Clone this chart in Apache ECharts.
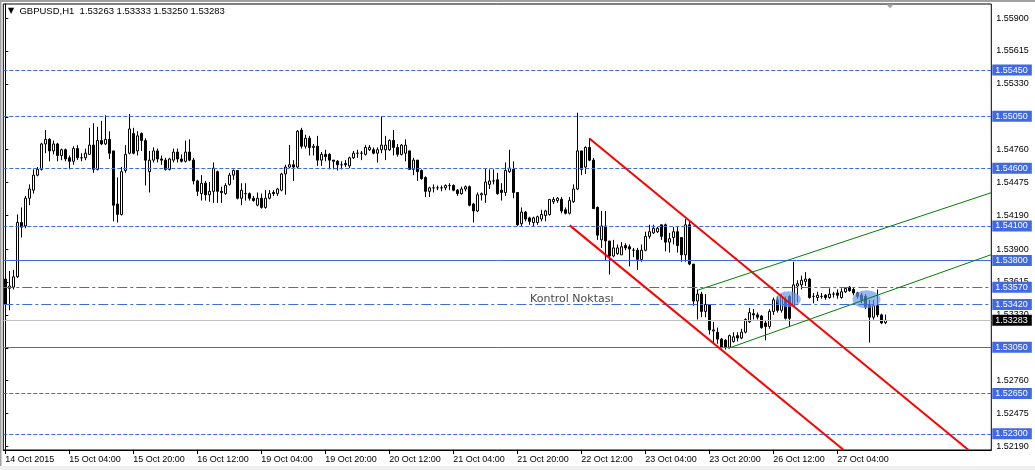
<!DOCTYPE html>
<html><head><meta charset="utf-8">
<script src="https://cdn.jsdelivr.net/npm/echarts@6/dist/echarts.min.js"></script>
<style>html,body{margin:0;padding:0;background:#fff}#c{width:1035px;height:470px}</style>
</head><body><div id="c"></div>
<script>
const opens = [1.5364,1.5356,1.5357,1.5366,1.5413,1.5410,1.5434,1.5441,1.5454,1.5459,
1.5481,1.5485,1.5475,1.5481,1.5471,1.5476,1.5469,1.5466,1.5477,1.5469,
1.5469,1.5472,1.5480,1.5459,1.5484,1.5481,1.5485,1.5475,1.5429,1.5420,
1.5458,1.5473,1.5490,1.5475,1.5490,1.5484,1.5457,1.5467,1.5475,1.5468,
1.5467,1.5459,1.5467,1.5474,1.5468,1.5466,1.5474,1.5467,1.5449,1.5438,
1.5447,1.5437,1.5440,1.5457,1.5440,1.5438,1.5446,1.5454,1.5458,1.5434,
1.5438,1.5438,1.5434,1.5428,1.5434,1.5426,1.5434,1.5439,1.5438,1.5441,
1.5455,1.5461,1.5463,1.5461,1.5493,1.5479,1.5486,1.5478,1.5479,1.5467,
1.5472,1.5472,1.5467,1.5466,1.5463,1.5464,1.5462,1.5469,1.5473,1.5473,
1.5472,1.5476,1.5476,1.5473,1.5476,1.5476,1.5476,1.5484,1.5478,1.5472,
1.5473,1.5475,1.5459,1.5467,1.5458,1.5452,1.5440,1.5443,1.5443,1.5443,
1.5443,1.5445,1.5445,1.5441,1.5438,1.5442,1.5444,1.5429,1.5423,1.5437,
1.5437,1.5446,1.5449,1.5450,1.5441,1.5439,1.5457,1.5459,1.5439,1.5412,
1.5422,1.5417,1.5413,1.5413,1.5416,1.5419,1.5420,1.5431,1.5432,1.5433,
1.5424,1.5421,1.5431,1.5442,1.5475,1.5461,1.5478,1.5467,1.5426,1.5398,
1.5410,1.5397,1.5384,1.5386,1.5385,1.5393,1.5392,1.5389,1.5389,1.5381,
1.5389,1.5401,1.5404,1.5405,1.5411,1.5411,1.5396,1.5400,1.5405,1.5400,
1.5385,1.5411,1.5377,1.5345,1.5351,1.5336,1.5342,1.5319,1.5318,1.5312,
1.5311,1.5305,1.5310,1.5315,1.5313,1.5318,1.5327,1.5334,1.5333,1.5332,
1.5326,1.5323,1.5336,1.5346,1.5337,1.5346,1.5349,1.5341,1.5358,1.5359,
1.5362,1.5364,1.5349,1.5348,1.5349,1.5350,1.5348,1.5351,1.5352,1.5348,
1.5353,1.5357,1.5355,1.5352,1.5350,1.5349,1.5342,1.5331,1.5341,1.5333,
1.53263];
const highs = [1.5367,1.5371,1.5372,1.5420,1.5426,1.5436,1.5446,1.5459,1.5461,1.5482,
1.5493,1.5486,1.5484,1.5482,1.5477,1.5477,1.5471,1.5479,1.5480,1.5473,
1.5477,1.5495,1.5499,1.5496,1.5501,1.5506,1.5492,1.5475,1.5452,1.5461,
1.5480,1.5507,1.5495,1.5492,1.5491,1.5486,1.5475,1.5478,1.5477,1.5471,
1.5469,1.5469,1.5477,1.5477,1.5472,1.5484,1.5485,1.5469,1.5450,1.5454,
1.5449,1.5448,1.5465,1.5458,1.5444,1.5447,1.5456,1.5459,1.5458,1.5447,
1.5447,1.5439,1.5436,1.5439,1.5438,1.5441,1.5441,1.5441,1.5443,1.5456,
1.5463,1.5480,1.5467,1.5493,1.5495,1.5489,1.5488,1.5481,1.5488,1.5474,
1.5476,1.5473,1.5467,1.5467,1.5466,1.5467,1.5470,1.5475,1.5476,1.5475,
1.5480,1.5480,1.5478,1.5478,1.5505,1.5488,1.5485,1.5493,1.5481,1.5481,
1.5485,1.5475,1.5469,1.5467,1.5459,1.5453,1.5444,1.5446,1.5445,1.5445,
1.5446,1.5447,1.5446,1.5442,1.5444,1.5445,1.5445,1.5430,1.5439,1.5439,
1.5460,1.5459,1.5459,1.5456,1.5447,1.5465,1.5476,1.5466,1.5439,1.5426,
1.5423,1.5418,1.5418,1.5419,1.5424,1.5424,1.5433,1.5435,1.5435,1.5435,
1.5426,1.5435,1.5446,1.5508,1.5475,1.5479,1.5486,1.5469,1.5427,1.5423,
1.5423,1.5397,1.5398,1.5394,1.5396,1.5395,1.5394,1.5391,1.5391,1.5394,
1.5405,1.5411,1.5411,1.5409,1.5411,1.5412,1.5404,1.5409,1.5410,1.5400,
1.5416,1.5414,1.5377,1.5355,1.5353,1.5351,1.5342,1.5327,1.5322,1.5313,
1.5312,1.5316,1.5318,1.5318,1.5321,1.5330,1.5339,1.5338,1.5335,1.5333,
1.5328,1.5338,1.5348,1.5349,1.5351,1.5349,1.5350,1.5379,1.5363,1.5367,
1.5370,1.5365,1.5352,1.5353,1.5352,1.5351,1.5356,1.5353,1.5355,1.5356,
1.5357,1.5358,1.5357,1.5353,1.5352,1.5351,1.5346,1.5346,1.5355,1.5334,
1.53333];
const lows = [1.5337,1.5337,1.5355,1.5365,1.5400,1.5408,1.5428,1.5438,1.5453,1.5458,
1.5473,1.5466,1.5472,1.5466,1.5467,1.5466,1.5459,1.5463,1.5467,1.5466,
1.5467,1.5472,1.5456,1.5458,1.5480,1.5480,1.5468,1.5414,1.5413,1.5419,
1.5456,1.5472,1.5472,1.5471,1.5475,1.5445,1.5439,1.5465,1.5465,1.5463,
1.5458,1.5458,1.5465,1.5465,1.5465,1.5465,1.5466,1.5446,1.5436,1.5432,
1.5432,1.5431,1.5430,1.5430,1.5430,1.5437,1.5445,1.5450,1.5433,1.5428,
1.5432,1.5432,1.5431,1.5427,1.5425,1.5425,1.5433,1.5436,1.5436,1.5440,
1.5437,1.5460,1.5449,1.5460,1.5477,1.5477,1.5471,1.5471,1.5462,1.5462,
1.5466,1.5459,1.5459,1.5458,1.5459,1.5461,1.5460,1.5468,1.5469,1.5467,
1.5471,1.5475,1.5472,1.5465,1.5473,1.5467,1.5475,1.5471,1.5470,1.5471,
1.5466,1.5459,1.5454,1.5449,1.5450,1.5435,1.5435,1.5439,1.5441,1.5440,
1.5441,1.5441,1.5440,1.5436,1.5437,1.5440,1.5427,1.5413,1.5422,1.5432,
1.5430,1.5442,1.5446,1.5437,1.5432,1.5436,1.5456,1.5434,1.5410,1.5410,
1.5414,1.5411,1.5410,1.5411,1.5414,1.5414,1.5419,1.5429,1.5430,1.5421,
1.5420,1.5420,1.5430,1.5441,1.5454,1.5455,1.5466,1.5425,1.5398,1.5391,
1.5380,1.5368,1.5383,1.5385,1.5385,1.5389,1.5375,1.5383,1.5372,1.5379,
1.5388,1.5399,1.5403,1.5404,1.5398,1.5388,1.5387,1.5394,1.5387,1.5379,
1.5379,1.5376,1.5341,1.5329,1.5331,1.5331,1.5316,1.5309,1.5308,1.5304,
1.5303,1.5304,1.5309,1.5310,1.5312,1.5317,1.5326,1.5329,1.5329,1.5321,
1.5311,1.5321,1.5333,1.5335,1.5335,1.5329,1.5323,1.5340,1.5344,1.5355,
1.5358,1.5347,1.5343,1.5345,1.5347,1.5346,1.5347,1.5348,1.5347,1.5347,
1.5352,1.5353,1.5350,1.5347,1.5343,1.5338,1.5309,1.5329,1.5331,1.5325,
1.53250];
const closes = [1.5342,1.5358,1.5366,1.5413,1.5409,1.5434,1.5442,1.5454,1.5459,1.5481,
1.5485,1.5475,1.5481,1.5471,1.5476,1.5468,1.5466,1.5477,1.5469,1.5469,
1.5473,1.5480,1.5459,1.5484,1.5481,1.5485,1.5473,1.5428,1.5420,1.5457,
1.5472,1.5494,1.5473,1.5488,1.5484,1.5467,1.5467,1.5475,1.5468,1.5467,
1.5459,1.5468,1.5474,1.5468,1.5466,1.5474,1.5467,1.5449,1.5440,1.5447,
1.5437,1.5440,1.5460,1.5440,1.5439,1.5445,1.5454,1.5458,1.5434,1.5441,
1.5438,1.5434,1.5432,1.5434,1.5426,1.5434,1.5438,1.5438,1.5442,1.5455,
1.5461,1.5463,1.5461,1.5492,1.5479,1.5486,1.5478,1.5479,1.5467,1.5472,
1.5470,1.5467,1.5466,1.5463,1.5463,1.5463,1.5469,1.5473,1.5473,1.5473,
1.5478,1.5478,1.5473,1.5476,1.5480,1.5480,1.5484,1.5478,1.5472,1.5480,
1.5480,1.5459,1.5467,1.5457,1.5451,1.5440,1.5443,1.5443,1.5443,1.5443,
1.5445,1.5445,1.5441,1.5438,1.5442,1.5444,1.5428,1.5423,1.5437,1.5438,
1.5448,1.5449,1.5449,1.5438,1.5439,1.5458,1.5460,1.5439,1.5411,1.5422,
1.5416,1.5414,1.5417,1.5418,1.5420,1.5423,1.5433,1.5433,1.5434,1.5423,
1.5421,1.5432,1.5442,1.5475,1.5459,1.5478,1.5467,1.5425,1.5402,1.5410,
1.5397,1.5384,1.5391,1.5391,1.5392,1.5391,1.5390,1.5389,1.5381,1.5389,
1.5401,1.5405,1.5408,1.5408,1.5401,1.5396,1.5399,1.5405,1.5393,1.5385,
1.5411,1.5377,1.5345,1.5351,1.5336,1.5342,1.5320,1.5320,1.5312,1.5305,
1.5305,1.5315,1.5314,1.5313,1.5318,1.5329,1.5335,1.5333,1.5331,1.5322,
1.5323,1.5336,1.5346,1.5337,1.5349,1.5330,1.5330,1.5359,1.5360,1.5363,
1.5364,1.5348,1.5349,1.5350,1.5349,1.5348,1.5351,1.5351,1.5350,1.5353,
1.5356,1.5354,1.5352,1.5349,1.5346,1.5340,1.5331,1.5341,1.5333,1.5326,
1.53283];

const tickLabels = ['14 Oct 2015','15 Oct 04:00','15 Oct 20:00','16 Oct 12:00','19 Oct 04:00','19 Oct 20:00','20 Oct 12:00','21 Oct 04:00','21 Oct 20:00','22 Oct 12:00','23 Oct 04:00','23 Oct 20:00','26 Oct 12:00','27 Oct 04:00'];
const priceTicks = [1.52190,1.52475,1.52760,1.53045,1.53330,1.53615,1.53900,1.54190,1.54475,1.54760,1.55045,1.55330,1.55615,1.55900];
const levelsDashed = [1.55450,1.55050,1.54600,1.54100,1.52650,1.52300];
const levelsSolid = [1.53800,1.53050];
const levelsDashDot = [1.53570,1.53420];
const lastPrice = 1.53283;
const redUpper = [[146.1,1.54855],[240.8,1.5216]];
const redLower = [[141.1,1.54105],[209.6,1.5216]];
const greenUpper = [[173.2,1.53545],[246.5,1.54388]];
const greenLower = [[180.7,1.53040],[246.5,1.53852]];
const highlights = [[195.75,1.53465],[215.3,1.53465]];
const notePoint = [131.2,1.53465];
const noteText = 'Kontrol Noktası';
const titleText = 'GBPUSD,H1  1.53263 1.53333 1.53250 1.53283';

const SLOTS = 247;
const FONT = "'Liberation Sans', Arial, sans-serif";
const BLUE = '#4169E1';

const cats = Array.from({length: SLOTS}, (_, i) => String(i));
const candles = opens.map((o, i) => [o, closes[i], lows[i], highs[i]]);
const isTick = i => i % 16 === 0 && i / 16 < tickLabels.length;

function boxLabel(bg) {
  return {show: true, position: 'end', distance: 1, formatter: p => Number(p.value).toFixed(5),
    color: '#fff', backgroundColor: bg, padding: [1, 4, 0, 3], lineHeight: 10,
    fontSize: 9, fontFamily: FONT};
}
const mlData = [];
levelsDashed.forEach(v => mlData.push({yAxis: v, lineStyle: {type: [4, 2], color: BLUE, width: 1}, label: boxLabel(BLUE)}));
levelsSolid.forEach(v => mlData.push({yAxis: v, lineStyle: {type: 'solid', color: BLUE, width: 1}, label: boxLabel(BLUE)}));
levelsDashDot.forEach(v => mlData.push({yAxis: v, lineStyle: {type: [10, 3, 3, 3], color: BLUE, width: 1}, label: boxLabel(BLUE)}));
mlData.push({yAxis: lastPrice, lineStyle: {type: 'solid', color: '#c0c0c0', width: 1}, label: boxLabel('#000')});

const blobSizes = [[25, 16], [28, 18]];

const chart = echarts.init(document.getElementById('c'));
chart.setOption({
  animation: false,
  backgroundColor: '#fff',
  title: {
    text: '{t|\u25BC}  ' + titleText, left: 8, top: 6, padding: 0,
    textStyle: {fontSize: 9.5, fontWeight: 'normal', color: '#000', fontFamily: FONT,
      rich: {t: {fontSize: 8, fontFamily: 'DejaVu Sans', color: '#000'}}}
  },
  grid: {left: 3.3, top: 4, width: 988, height: 446, show: true, borderColor: '#000', borderWidth: 1, backgroundColor: '#fff'},
  xAxis: [{
    type: 'category', data: cats, boundaryGap: true,
    axisLine: {show: true, lineStyle: {color: '#000', width: 1}},
    axisTick: {show: true, alignWithLabel: true, interval: isTick, length: 4, lineStyle: {color: '#000'}},
    axisLabel: {interval: isTick, formatter: (v, i) => tickLabels[i / 16] || '',
      align: 'left', margin: 5, fontSize: 9, color: '#000', fontFamily: FONT},
    splitLine: {show: false}
  }, {
    type: 'value', min: -0.5, max: SLOTS - 0.5, show: false
  }],
  yAxis: {
    type: 'value', position: 'right', min: 1.5216, max: 1.56022, scale: true,
    splitLine: {show: false},
    axisLine: {show: true, lineStyle: {color: '#000'}},
    axisTick: {show: true, length: 3, customValues: priceTicks, lineStyle: {color: '#000'}},
    axisLabel: {customValues: priceTicks, formatter: v => Number(v).toFixed(5), margin: 5,
      fontSize: 9, color: '#000', fontFamily: FONT}
  },
  series: [
    {type: 'scatter', xAxisIndex: 1, yAxisIndex: 0, z: 4, silent: true,
      data: highlights.map((p, i) => ({value: p, symbolSize: blobSizes[i]})),
      symbol: 'circle', itemStyle: {color: 'rgba(100,150,236,0.85)'}},
    {type: 'candlestick', xAxisIndex: 0, yAxisIndex: 0, z: 3, data: candles, barWidth: 3,
      itemStyle: {color: '#fff', color0: '#000', borderColor: '#000', borderColor0: '#000', borderColorDoji: '#000', borderWidth: 1},
      markLine: {silent: true, symbol: 'none', precision: 5, animation: false, data: mlData}},
    {type: 'line', xAxisIndex: 1, yAxisIndex: 0, z: 5, silent: true, data: redUpper, symbol: 'none', lineStyle: {color: '#ff0000', width: 2}},
    {type: 'line', xAxisIndex: 1, yAxisIndex: 0, z: 5, silent: true, data: redLower, symbol: 'none', lineStyle: {color: '#ff0000', width: 2}},
    {type: 'line', xAxisIndex: 1, yAxisIndex: 0, z: 5, silent: true, data: greenUpper, symbol: 'none', lineStyle: {color: '#008000', width: 1}},
    {type: 'line', xAxisIndex: 1, yAxisIndex: 0, z: 5, silent: true, data: greenLower, symbol: 'none', lineStyle: {color: '#008000', width: 1}},
    {type: 'scatter', xAxisIndex: 1, yAxisIndex: 0, z: 6, silent: true, data: [notePoint], symbolSize: 0,
      label: {show: true, position: 'right', distance: 0, formatter: noteText, color: '#111', fontSize: 11, fontFamily: 'DejaVu Sans'}}
  ],
  graphic: [
    {type: 'rect', shape: {x: 0, y: 0, width: 1035, height: 2}, style: {fill: '#a0a0a0'}, silent: true},
    {type: 'rect', shape: {x: 0, y: 0, width: 1.5, height: 470}, style: {fill: '#a0a0a0'}, silent: true},
    {type: 'rect', shape: {x: 0, y: 466, width: 1035, height: 4}, style: {fill: '#f0f0f0'}, silent: true},
    {type: 'polygon', shape: {points: [[886.5, 4.5], [893.5, 4.5], [890, 8.5]]}, style: {fill: '#a8a8a8'}, silent: true}
  ]
});
</script></body></html>
